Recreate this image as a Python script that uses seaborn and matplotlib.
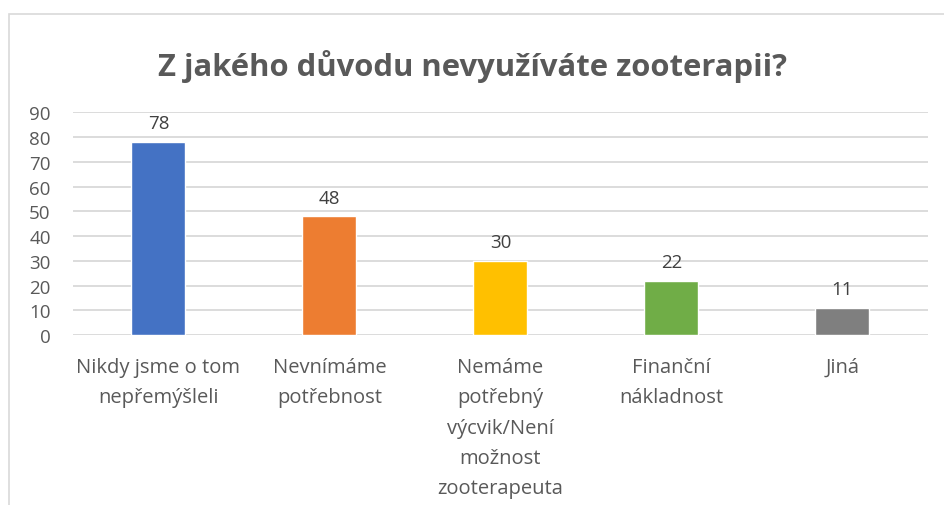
import matplotlib
matplotlib.use("Agg")
import matplotlib.pyplot as plt
import pandas as pd
import seaborn as sns
from matplotlib.patches import Rectangle

# data
categories = [
    "Nikdy jsme o tom\nnepřemýšleli",
    "Nevnímáme\npotřebnost",
    "Nemáme\npotřebný\nvýcvik/Není\nmožnost\nzooterapeuta",
    "Finanční\nnákladnost",
    "Jiná",
]
counts = [78, 48, 30, 22, 11]
bar_colors = ["#4472C4", "#ED7D31", "#FFC000", "#70AD47", "#7F7F7F"]
y_ticks = [0, 10, 20, 30, 40, 50, 60, 70, 80, 90]
title = "Z jakého důvodu nevyužíváte zooterapii?"

sns.set_theme(style="white")
plt.rcParams["font.family"] = ["Open Sans", "DejaVu Sans"]

df = pd.DataFrame({"category": categories, "count": counts})

fig = plt.figure(figsize=(9.44, 5.06), dpi=100)
ax = fig.add_axes([0.0773, 0.336, 0.9057, 0.4397])

sns.barplot(data=df, x="category", y="count", hue="category",
            palette=bar_colors, width=0.316, legend=False, saturation=1,
            ax=ax, zorder=3)

ax.set_ylim(0, 90)
ax.set_yticks(y_ticks)
ax.set_xlim(-0.5, len(categories) - 0.5)
ax.yaxis.grid(True, color="#D9D9D9", linewidth=1.3, zorder=0)
ax.set_axisbelow(True)
for s in ax.spines.values():
    s.set_visible(False)
ax.set_xlabel("")
ax.set_ylabel("")
ax.tick_params(axis="y", length=0, pad=16, labelsize=13.5, labelcolor="#595959")
ax.tick_params(axis="x", length=0, pad=16, labelsize=14.5, labelcolor="#595959")
for lab in ax.get_xticklabels():
    lab.set_linespacing(1.68)

for cont in ax.containers:
    ax.bar_label(cont, padding=7, fontsize=13.5, color="#404040")

fig.text(0.5, 0.868, title, ha="center", va="center", fontsize=22.3,
         fontweight="bold", color="#595959")

# chart frame (runs off the image on right and bottom)
fig.patches.append(Rectangle((9 / 944, -0.1), 1.2, 1 - 15 / 506 + 0.1,
                             transform=fig.transFigure, fill=False,
                             edgecolor="#D9D9D9", linewidth=1.2))

fig.savefig("out.png", dpi=100)
